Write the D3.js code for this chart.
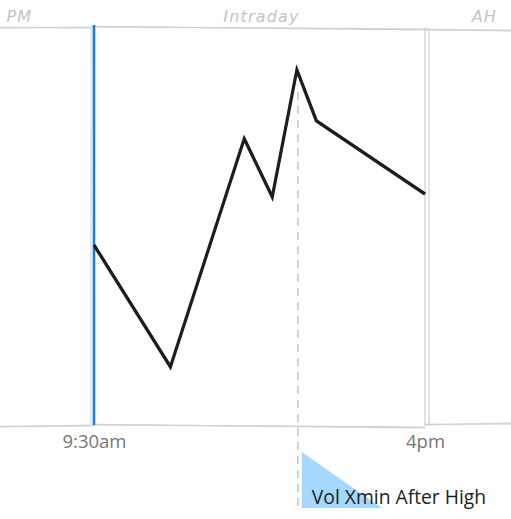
<!DOCTYPE html>
<html><head><meta charset="utf-8">
<script src="https://cdn.jsdelivr.net/npm/d3@7"></script>
<style>body{margin:0;background:#fff}svg{display:block}</style>
</head><body>
<svg id="c" width="511" height="519"></svg>
<script>
// minutes since 9:30 open
const times = [0, 90, 177, 210, 239, 262, 390];
const prices = [45.2, 14.6, 71.9, 57.3, 89.2, 76.4, 58.0];
const tickTimes = [0, 390];
const tickLabels = ["9:30am", "4pm"];
const sessionLabels = ["PM", "Intraday", "AH"];
const highTime = 239;
const annotation = "Vol Xmin After High";

(function () {
const svg = d3.select("#c");
const x = d3.scaleLinear().domain([0, 390]).range([94, 425]);
const y = d3.scaleLinear().domain([0, 100]).range([425, 27]);
const yTop = y(100), yBot = y(0);

function rough(x1, y1, x2, y2, stroke, w, passes, offs) {
  const o = offs || [[0,0,0,0],[0.8,-0.6,-0.5,0.9]];
  for (let i = 0; i < passes; i++) {
    svg.append("line").attr("x1", x1 + o[i][0]).attr("y1", y1 + o[i][1])
      .attr("x2", x2 + o[i][2]).attr("y2", y2 + o[i][3])
      .attr("stroke", stroke).attr("stroke-width", w).attr("stroke-linecap", "round");
  }
}
const grey = "#d0d0d0";
// top line
rough(0, yTop + 1, x.range()[0], yTop, grey, 1.2, 2);
rough(x.range()[0], yTop, x.range()[1] + 2, yTop + 2, grey, 1.2, 2);
rough(x.range()[1], yTop + 3, 511, yTop + 3, grey, 1.2, 2);
// bottom line
rough(0, yBot + 2, x.range()[0], yBot, grey, 1.2, 2);
rough(x.range()[0], yBot, x.range()[1], yBot + 2, grey, 1.2, 2);
rough(x.range()[1], yBot, 511, yBot - 2, grey, 1.2, 2);
// session boundaries
rough(x(0) - 3, yTop, x(0) - 3, yBot, "#d6e6f5", 1.2, 2);
rough(x(390), yTop, x(390), yBot, grey, 1.2, 2, [[0,0,0,0],[4,1,4,-1]]);
// open line blue
svg.append("line").attr("x1", x(0)).attr("x2", x(0)).attr("y1", yTop - 2).attr("y2", yBot)
  .attr("stroke", "#1c7ed6").attr("stroke-width", 2.6);

// session labels
const labelX = [x(-88), (x(0) + x(390)) / 2 + 2, x(460)];
svg.selectAll("text.sess").data(sessionLabels).join("text")
  .attr("class", "sess").attr("x", (d, i) => labelX[i]).attr("y", 22)
  .attr("text-anchor", "middle").attr("fill", "#c4c4c4")
  .attr("font-family", "DejaVu Sans, sans-serif").attr("font-style", "italic")
  .attr("font-size", 16).attr("letter-spacing", 1.2).text(d => d);

// tick labels
const axis = d3.axisBottom(x).tickValues(tickTimes).tickFormat((d, i) => tickLabels[i]).tickSize(0).tickPadding(10);
const gAx = svg.append("g").attr("transform", `translate(0,${yBot})`).call(axis);
gAx.select(".domain").remove();
gAx.selectAll("text").attr("fill", "#777").attr("font-family", "Open Sans, sans-serif").attr("font-size", 18.5);

// high marker dashed line
svg.append("line").attr("x1", x(highTime) + 1).attr("x2", x(highTime) + 1)
  .attr("y1", y(prices[4]) + 22).attr("y2", 512)
  .attr("stroke", "#c4c4c4").attr("stroke-width", 1.5).attr("stroke-dasharray", "8 6");

// price line
const line = d3.line().x((d, i) => x(times[i])).y(d => y(d));
svg.append("path").attr("d", line(prices)).attr("fill", "none")
  .attr("stroke", "#1e1e1e").attr("stroke-width", 3.2).attr("stroke-linejoin", "miter");
svg.append("path").attr("d", line(prices)).attr("fill", "none")
  .attr("transform", "translate(0.6,-0.8)")
  .attr("stroke", "#1e1e1e").attr("stroke-width", 1.2);

// annotation triangle
const tx = x(highTime) + 5;
svg.append("path").attr("d", `M${tx},452 L${tx},508 L${tx + 80},508 Z`).attr("fill", "#a5d8ff");
svg.append("text").attr("x", tx + 10).attr("y", 504).attr("fill", "#1e1e1e")
  .attr("font-family", "Open Sans, sans-serif").attr("font-size", 19.3).text(annotation);
})();
</script>
</body></html>
